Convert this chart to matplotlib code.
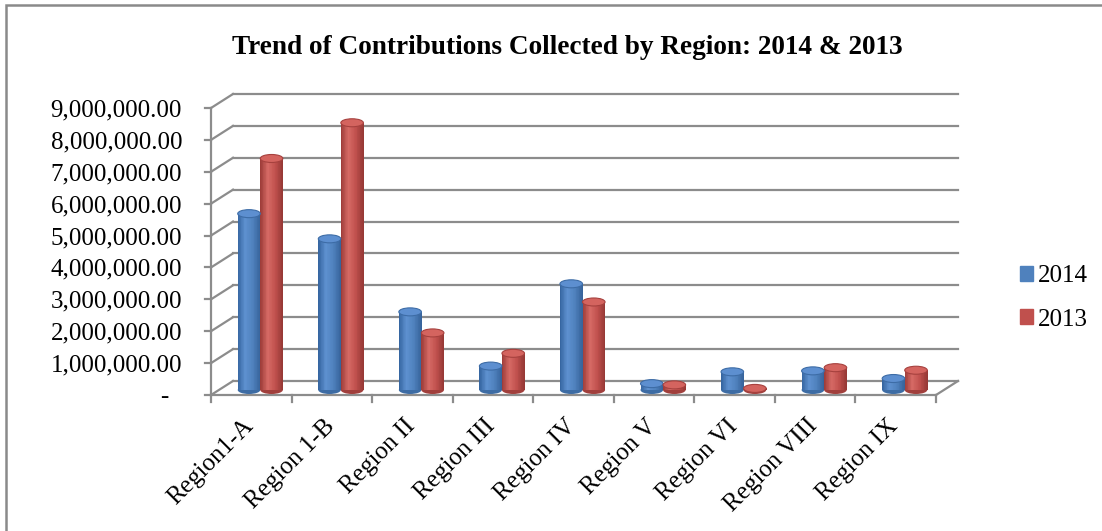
import numpy as np
import matplotlib
matplotlib.use('Agg')
import matplotlib.pyplot as plt
import matplotlib.transforms as mtransforms
from matplotlib.patches import Ellipse, Rectangle, Patch
from matplotlib.colors import LinearSegmentedColormap

plt.rcParams['font.family'] = ['Liberation Serif', 'DejaVu Serif']

regions = ['Region1-A', 'Region 1-B', 'Region II', 'Region III', 'Region IV',
           'Region V', 'Region VI', 'Region VIII', 'Region IX']
y2014 = [5530000, 4740000, 2450000, 750000, 3330000, 200000, 570000, 600000, 360000]
y2013 = [7260000, 8380000, 1790000, 1150000, 2760000, 160000, 50000, 700000, 620000]
series = ['2014', '2013']
yticks = np.arange(0, 9000001, 1000000)
ytick_labels = ['-'] + ['{:,.2f}'.format(v) for v in yticks[1:]]
title = 'Trend of Contributions Collected by Region: 2014 & 2013'

blue = '#4F81BD'
red = '#C0504D'
grid_c = '#8c8c8c'

W, H = 1102, 531
fig = plt.figure(figsize=(W / 100, H / 100), dpi=100)

# front plane of the 3d box
ax = fig.add_axes([211 / W, 1 - 395 / H, 725 / W, 287 / H])
ax.set_xlim(0, len(regions))
ax.set_ylim(0, 9000000)
ax.set_autoscale_on(False)
ax.axis('off')

back = mtransforms.offset_copy(ax.transData, fig=fig, x=22, y=14, units='dots')
mid = mtransforms.offset_copy(ax.transData, fig=fig, x=9, y=5, units='dots')
n = len(regions)

# back wall gridlines + left wall diagonals
for v in yticks:
    ax.plot([0, n], [v, v], color=grid_c, lw=1.6, transform=back, clip_on=False, zorder=1)
    xa, ya = ax.transData.transform((0, v))
    xb, yb = back.transform((0, v))
    fig.add_artist(plt.Line2D([xa / W, xb / W], [ya / H, yb / H], color=grid_c, lw=1.6, zorder=1))
    fig.add_artist(plt.Line2D([(xa - 6) / W, xa / W], [ya / H, ya / H], color=grid_c, lw=1.6, zorder=1))
# front axis line, floor front edge, right floor edge
ax.plot([0, 0], [0, 9000000], color=grid_c, lw=1.6, clip_on=False, zorder=1)
ax.plot([0, n], [0, 0], color=grid_c, lw=1.6, clip_on=False, zorder=1)
xa, ya = ax.transData.transform((n, 0))
xb, yb = back.transform((n, 0))
fig.add_artist(plt.Line2D([xa / W, xb / W], [ya / H, yb / H], color=grid_c, lw=1.6, zorder=1))
for i in range(n + 1):
    xa, ya = ax.transData.transform((i, 0))
    fig.add_artist(plt.Line2D([xa / W, xa / W], [ya / H, (ya - 7) / H], color=grid_c, lw=1.6))

# y labels
ylab_tr = mtransforms.blended_transform_factory(ax.transAxes, ax.transData)
for v, lab in zip(yticks, ytick_labels):
    xpos = -0.059 if lab == '-' else -0.04
    ax.text(xpos, v, lab, transform=ylab_tr, ha='right', va='center_baseline', fontsize=18)

# x labels
xlab_tr = mtransforms.offset_copy(ax.transData, fig=fig, x=7, y=-20, units='dots')
for i, r in enumerate(regions):
    ax.text(i + 0.5, 0, r, transform=xlab_tr, rotation=45, ha='right', va='top', fontsize=18)

# cylinder bars
cmaps = {
    '2014': LinearSegmentedColormap.from_list('b', ['#34649F', '#5E91D0', '#4F81BD', '#36639A'], N=128),
    '2013': LinearSegmentedColormap.from_list('r', ['#9C3B38', '#D66A65', '#C0504D', '#953835'], N=128),
}
tops = {'2014': ('#5D8FD0', '#3D6CA6'), '2013': ('#D4645F', '#A6413E')}
bw = 0.28
eh = 8 * 9000000 / 287
nstrip = 30
for s, vals, dx in [('2014', y2014, -0.14), ('2013', y2013, 0.14)]:
    for i, v in enumerate(vals):
        xc = i + 0.5 + dx
        x0 = xc - bw / 2
        ax.add_patch(Ellipse((xc, 0), bw, eh, facecolor=cmaps[s](0.9), edgecolor='none',
                             transform=mid, clip_on=False, zorder=3))
        for k in range(nstrip):
            t = (k + 0.5) / nstrip
            ax.bar(x0 + k * bw / nstrip, v, width=bw / nstrip * 1.5, align='edge',
                   color=cmaps[s](t), linewidth=0, antialiased=False,
                   transform=mid, clip_on=False, zorder=3)
        fc, ec = tops[s]
        ax.add_patch(Ellipse((xc, v), bw, eh, facecolor=fc, edgecolor=ec, lw=0.8,
                             transform=mid, clip_on=False, zorder=4))

fig.text(567 / W, 1 - 47 / H, title, ha='center', va='center', fontsize=19.6, fontweight='bold')

fig.legend(handles=[Patch(color=blue, label=series[0]), Patch(color=red, label=series[1])],
           loc='center left', bbox_to_anchor=(997 / W, 1 - 298 / H), frameon=False,
           handlelength=0.55, handleheight=0.55, handletextpad=0.2, labelspacing=0.85,
           fontsize=18)

# chart frame
fig.add_artist(Rectangle((6 / W, -0.1), 1.2, 1 - 5 / H + 0.1, transform=fig.transFigure,
                         fill=False, edgecolor='#8a8a8a', lw=1.8))

fig.savefig('out.png', dpi=100)
